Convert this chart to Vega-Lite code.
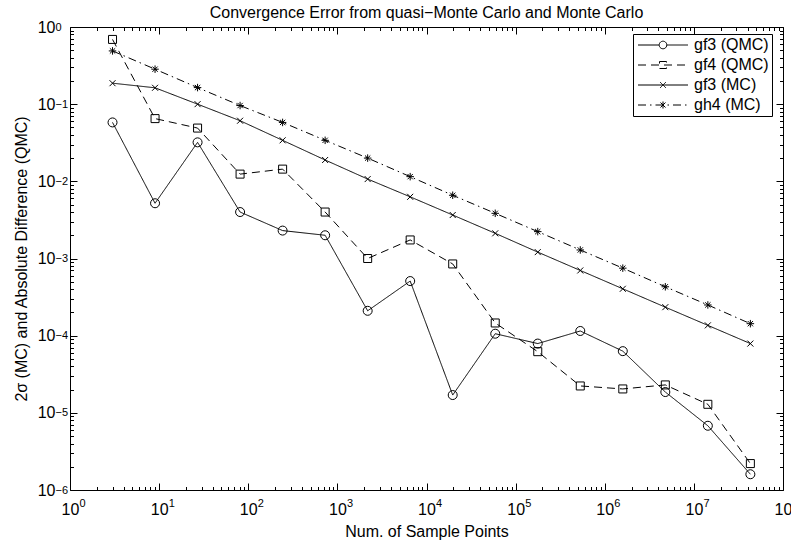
{
  "$schema": "https://vega.github.io/schema/vega-lite/v6.json",
  "width": 713,
  "height": 463,
  "autosize": "none",
  "padding": {"left": 70, "top": 27, "right": 8, "bottom": 54},
  "background": "white",
  "config": {
    "view": {"stroke": null},
    "font": "Liberation Sans",
    "axis": {
      "domainColor": "black", "domainWidth": 1,
      "tickColor": "black", "tickWidth": 1,
      "labelColor": "black", "labelFont": "Liberation Sans", "labelFontSize": 16,
      "titleFont": "Liberation Sans", "titleFontSize": 16, "titleFontWeight": "normal", "titleColor": "black",
      "grid": false, "labelOverlap": false, "labelBound": false, "labelFlush": false
    },
    "legend": {
      "orient": "none", "legendX": 563, "legendY": 7,
      "strokeColor": "black", "fillColor": "white", "padding": 3, "cornerRadius": 0,
      "symbolSize": 100, "symbolStrokeWidth": 1, "symbolStrokeColor": "black", "symbolOpacity": 1,
      "symbolOffset": 19,
      "labelFont": "Liberation Sans", "labelFontSize": 16, "labelColor": "black", "labelOffset": 23,
      "rowPadding": 4, "labelExpr": "datum.label + '\u00a0\u00a0\u00a0'"
    }
  },
  "title": {"text": "Convergence Error from quasi−Monte Carlo and Monte Carlo", "fontSize": 16, "fontWeight": "normal", "font": "Liberation Sans", "color": "black", "offset": 10, "dy": 12},
  "data": {"values": [
    {"n": 3, "series": "gf3 (QMC)", "err": 0.058},
    {"n": 9, "series": "gf3 (QMC)", "err": 0.0052},
    {"n": 27, "series": "gf3 (QMC)", "err": 0.032},
    {"n": 81, "series": "gf3 (QMC)", "err": 0.0040},
    {"n": 243, "series": "gf3 (QMC)", "err": 0.0023},
    {"n": 729, "series": "gf3 (QMC)", "err": 0.0020},
    {"n": 2187, "series": "gf3 (QMC)", "err": 0.00021},
    {"n": 6561, "series": "gf3 (QMC)", "err": 0.00051},
    {"n": 19683, "series": "gf3 (QMC)", "err": 0.000017},
    {"n": 59049, "series": "gf3 (QMC)", "err": 0.000106},
    {"n": 177147, "series": "gf3 (QMC)", "err": 0.000079},
    {"n": 531441, "series": "gf3 (QMC)", "err": 0.000115},
    {"n": 1594323, "series": "gf3 (QMC)", "err": 0.000063},
    {"n": 4782969, "series": "gf3 (QMC)", "err": 0.0000186},
    {"n": 14348907, "series": "gf3 (QMC)", "err": 0.0000068},
    {"n": 43046721, "series": "gf3 (QMC)", "err": 0.0000016},
    {"n": 3, "series": "gf4 (QMC)", "err": 0.69},
    {"n": 9, "series": "gf4 (QMC)", "err": 0.065},
    {"n": 27, "series": "gf4 (QMC)", "err": 0.049},
    {"n": 81, "series": "gf4 (QMC)", "err": 0.0124},
    {"n": 243, "series": "gf4 (QMC)", "err": 0.0144},
    {"n": 729, "series": "gf4 (QMC)", "err": 0.0040},
    {"n": 2187, "series": "gf4 (QMC)", "err": 0.0010},
    {"n": 6561, "series": "gf4 (QMC)", "err": 0.00174},
    {"n": 19683, "series": "gf4 (QMC)", "err": 0.00085},
    {"n": 59049, "series": "gf4 (QMC)", "err": 0.000146},
    {"n": 177147, "series": "gf4 (QMC)", "err": 0.000062},
    {"n": 531441, "series": "gf4 (QMC)", "err": 0.0000223},
    {"n": 1594323, "series": "gf4 (QMC)", "err": 0.0000204},
    {"n": 4782969, "series": "gf4 (QMC)", "err": 0.000023},
    {"n": 14348907, "series": "gf4 (QMC)", "err": 0.0000129},
    {"n": 43046721, "series": "gf4 (QMC)", "err": 0.0000022},
    {"n": 3, "series": "gf3 (MC)", "err": 0.187},
    {"n": 9, "series": "gf3 (MC)", "err": 0.163},
    {"n": 27, "series": "gf3 (MC)", "err": 0.100},
    {"n": 81, "series": "gf3 (MC)", "err": 0.061},
    {"n": 243, "series": "gf3 (MC)", "err": 0.034},
    {"n": 729, "series": "gf3 (MC)", "err": 0.0189},
    {"n": 2187, "series": "gf3 (MC)", "err": 0.0107},
    {"n": 6561, "series": "gf3 (MC)", "err": 0.0063},
    {"n": 19683, "series": "gf3 (MC)", "err": 0.00366},
    {"n": 59049, "series": "gf3 (MC)", "err": 0.00212},
    {"n": 177147, "series": "gf3 (MC)", "err": 0.00121},
    {"n": 531441, "series": "gf3 (MC)", "err": 0.00070},
    {"n": 1594323, "series": "gf3 (MC)", "err": 0.000405},
    {"n": 4782969, "series": "gf3 (MC)", "err": 0.000234},
    {"n": 14348907, "series": "gf3 (MC)", "err": 0.000136},
    {"n": 43046721, "series": "gf3 (MC)", "err": 0.000079},
    {"n": 3, "series": "gh4 (MC)", "err": 0.49},
    {"n": 9, "series": "gh4 (MC)", "err": 0.284},
    {"n": 27, "series": "gh4 (MC)", "err": 0.164},
    {"n": 81, "series": "gh4 (MC)", "err": 0.096},
    {"n": 243, "series": "gh4 (MC)", "err": 0.058},
    {"n": 729, "series": "gh4 (MC)", "err": 0.034},
    {"n": 2187, "series": "gh4 (MC)", "err": 0.020},
    {"n": 6561, "series": "gh4 (MC)", "err": 0.0115},
    {"n": 19683, "series": "gh4 (MC)", "err": 0.0066},
    {"n": 59049, "series": "gh4 (MC)", "err": 0.00385},
    {"n": 177147, "series": "gh4 (MC)", "err": 0.00223},
    {"n": 531441, "series": "gh4 (MC)", "err": 0.00129},
    {"n": 1594323, "series": "gh4 (MC)", "err": 0.00075},
    {"n": 4782969, "series": "gh4 (MC)", "err": 0.00043},
    {"n": 14348907, "series": "gh4 (MC)", "err": 0.00025},
    {"n": 43046721, "series": "gh4 (MC)", "err": 0.000143}
  ]},
  "encoding": {
    "x": {"field": "n", "type": "quantitative", "scale": {"type": "log", "domain": [1, 100000000], "nice": false}, "axis": null},
    "y": {"field": "err", "type": "quantitative", "scale": {"type": "log", "domain": [0.000001, 1], "nice": false}, "axis": null}
  },
  "layer": [
    {
      "mark": {"type": "line", "color": "black", "strokeWidth": 1},
      "encoding": {
        "x": {"field": "n", "type": "quantitative", "scale": {"type": "log", "domain": [1, 100000000], "nice": false},
          "axis": {"orient": "bottom", "title": "Num. of Sample Points", "ticks": false, "labelPadding": 11, "titlePadding": 6,
            "values": [1, 10, 100, 1000, 1e4, 1e5, 1e6, 1e7, 1e8],
            "labelExpr": "'10'"}},
        "y": {"field": "err", "type": "quantitative", "scale": {"type": "log", "domain": [0.000001, 1], "nice": false},
          "axis": {"orient": "left", "title": "2σ (MC) and Absolute Difference (QMC)", "ticks": false, "labelPadding": 15, "titlePadding": 8,
            "values": [1e-6, 1e-5, 1e-4, 1e-3, 0.01, 0.1, 1],
            "labelExpr": "'10'"}},
        "strokeDash": {"field": "series", "type": "nominal",
          "scale": {"domain": ["gf3 (QMC)", "gf4 (QMC)", "gf3 (MC)", "gh4 (MC)"], "range": [[1, 0], [8, 5], [1, 0], [8, 4, 1.5, 4]]},
          "legend": {"title": null}}
      }
    },
    {
      "transform": [{"filter": "datum.series == 'gf3 (QMC)'"}],
      "mark": {"type": "point", "shape": "M0.9,0A0.9,0.9 0 1,1 -0.9,0A0.9,0.9 0 1,1 0.9,0Z", "size": 100, "filled": false, "color": "black", "strokeWidth": 1, "opacity": 1}
    },
    {
      "transform": [{"filter": "datum.series == 'gf4 (QMC)'"}],
      "mark": {"type": "point", "shape": "M-0.8,-0.8L0.8,-0.8L0.8,0.8L-0.8,0.8Z", "size": 100, "filled": false, "color": "black", "strokeWidth": 1, "opacity": 1}
    },
    {
      "transform": [{"filter": "datum.series == 'gf3 (MC)'"}],
      "mark": {"type": "point", "shape": "M-0.6,-0.6L0.6,0.6M-0.6,0.6L0.6,-0.6", "size": 100, "filled": false, "color": "black", "strokeWidth": 1, "opacity": 1}
    },
    {
      "transform": [{"filter": "datum.series == 'gh4 (MC)'"}],
      "mark": {"type": "point", "shape": "M0,-0.75L0,0.75M-0.75,0L0.75,0M-0.53,-0.53L0.53,0.53M-0.53,0.53L0.53,-0.53", "size": 100, "filled": false, "color": "black", "strokeWidth": 1, "opacity": 1}
    },
    {
      "transform": [{"filter": "datum.err > 1000"}],
      "mark": {"type": "point", "filled": false, "color": "black", "opacity": 1},
      "encoding": {
        "x": {"field": "n", "type": "quantitative", "scale": {"type": "log", "domain": [1, 100000000], "nice": false},
          "axis": {"orient": "bottom", "title": null, "ticks": false, "domain": false, "labelFontSize": 11, "labelAlign": "left", "labelOffset": 9, "labelPadding": 7,
            "values": [1, 10, 100, 1000, 1e4, 1e5, 1e6, 1e7, 1e8],
            "labelExpr": "(round(log(datum.value)/LN10) < 0 ? '−' : '') + abs(round(log(datum.value)/LN10))"}},
        "y": {"field": "err", "type": "quantitative", "scale": {"type": "log", "domain": [0.000001, 1], "nice": false},
          "axis": {"orient": "left", "title": null, "ticks": false, "domain": false, "labelFontSize": 11, "labelAlign": "left", "labelDy": -6, "labelPadding": 15,
            "values": [1e-6, 1e-5, 1e-4, 1e-3, 0.01, 0.1, 1],
            "labelExpr": "(round(log(datum.value)/LN10) < 0 ? '−' : '') + abs(round(log(datum.value)/LN10))"}}
      }
    },
    {
      "transform": [{"filter": "datum.err > 1000"}],
      "mark": {"type": "point", "filled": false, "color": "black", "opacity": 1},
      "encoding": {
        "x": {"field": "n", "type": "quantitative", "scale": {"type": "log", "domain": [1, 100000000], "nice": false},
          "axis": {"orient": "bottom", "title": null, "labels": false, "domain": false,
            "values": [1,2,3,4,5,6,7,8,9,10,20,30,40,50,60,70,80,90,100,200,300,400,500,600,700,800,900,1000,2000,3000,4000,5000,6000,7000,8000,9000,1e4,2e4,3e4,4e4,5e4,6e4,7e4,8e4,9e4,1e5,2e5,3e5,4e5,5e5,6e5,7e5,8e5,9e5,1e6,2e6,3e6,4e6,5e6,6e6,7e6,8e6,9e6,1e7,2e7,3e7,4e7,5e7,6e7,7e7,8e7,9e7,1e8],
            "tickSize": {"condition": {"test": "abs(log(datum.value)/LN10 - round(log(datum.value)/LN10)) < 0.001", "value": -7}, "value": -3.5}}},
        "y": {"field": "err", "type": "quantitative", "scale": {"type": "log", "domain": [0.000001, 1], "nice": false},
          "axis": {"orient": "left", "title": null, "labels": false, "domain": false,
            "values": [1e-6,2e-6,3e-6,4e-6,5e-6,6e-6,7e-6,8e-6,9e-6,1e-5,2e-5,3e-5,4e-5,5e-5,6e-5,7e-5,8e-5,9e-5,1e-4,2e-4,3e-4,4e-4,5e-4,6e-4,7e-4,8e-4,9e-4,1e-3,2e-3,3e-3,4e-3,5e-3,6e-3,7e-3,8e-3,9e-3,0.01,0.02,0.03,0.04,0.05,0.06,0.07,0.08,0.09,0.1,0.2,0.3,0.4,0.5,0.6,0.7,0.8,0.9,1],
            "tickSize": {"condition": {"test": "abs(log(datum.value)/LN10 - round(log(datum.value)/LN10)) < 0.001", "value": -7}, "value": -3.5}}}
      }
    },
    {
      "transform": [{"filter": "datum.err > 1000"}],
      "mark": {"type": "point", "filled": false, "color": "black", "strokeWidth": 1, "opacity": 1},
      "encoding": {
        "x": {"field": "n", "type": "quantitative", "scale": {"type": "log", "domain": [1, 100000000], "nice": false},
          "axis": {"orient": "top", "title": null, "labels": false,
            "values": [1,2,3,4,5,6,7,8,9,10,20,30,40,50,60,70,80,90,100,200,300,400,500,600,700,800,900,1000,2000,3000,4000,5000,6000,7000,8000,9000,1e4,2e4,3e4,4e4,5e4,6e4,7e4,8e4,9e4,1e5,2e5,3e5,4e5,5e5,6e5,7e5,8e5,9e5,1e6,2e6,3e6,4e6,5e6,6e6,7e6,8e6,9e6,1e7,2e7,3e7,4e7,5e7,6e7,7e7,8e7,9e7,1e8],
            "tickSize": {"condition": {"test": "abs(log(datum.value)/LN10 - round(log(datum.value)/LN10)) < 0.001", "value": -7}, "value": -3.5}}},
        "y": {"field": "err", "type": "quantitative", "scale": {"type": "log", "domain": [0.000001, 1], "nice": false},
          "axis": {"orient": "right", "title": null, "labels": false,
            "values": [1e-6,2e-6,3e-6,4e-6,5e-6,6e-6,7e-6,8e-6,9e-6,1e-5,2e-5,3e-5,4e-5,5e-5,6e-5,7e-5,8e-5,9e-5,1e-4,2e-4,3e-4,4e-4,5e-4,6e-4,7e-4,8e-4,9e-4,1e-3,2e-3,3e-3,4e-3,5e-3,6e-3,7e-3,8e-3,9e-3,0.01,0.02,0.03,0.04,0.05,0.06,0.07,0.08,0.09,0.1,0.2,0.3,0.4,0.5,0.6,0.7,0.8,0.9,1],
            "tickSize": {"condition": {"test": "abs(log(datum.value)/LN10 - round(log(datum.value)/LN10)) < 0.001", "value": -7}, "value": -3.5}}},
        "shape": {"field": "series", "type": "nominal",
          "scale": {"domain": ["gf3 (QMC)", "gf4 (QMC)", "gf3 (MC)", "gh4 (MC)"],
            "range": [
              "M-5,0L-0.76,0M0.76,0L5,0M0.76,0A0.76,0.76 0 1,1 -0.76,0A0.76,0.76 0 1,1 0.76,0Z",
              "M-5,0L5,0M-0.7,-0.7L0.7,-0.7L0.7,0.7L-0.7,0.7Z",
              "M-5,0L5,0M-0.6,-0.6L0.6,0.6M-0.6,0.6L0.6,-0.6",
              "M-5,0L5,0M0,-0.7L0,0.7M-0.5,-0.5L0.5,0.5M-0.5,0.5L0.5,-0.5"
            ]},
          "legend": {"title": null}},
        "strokeDash": {"field": "series", "type": "nominal",
          "scale": {"domain": ["gf3 (QMC)", "gf4 (QMC)", "gf3 (MC)", "gh4 (MC)"], "range": [[1, 0], [8, 5], [1, 0], [8, 4, 1.5, 4]]},
          "legend": {"title": null}}
      }
    }
  ],
  "resolve": {"axis": {"x": "independent", "y": "independent"}}
}
